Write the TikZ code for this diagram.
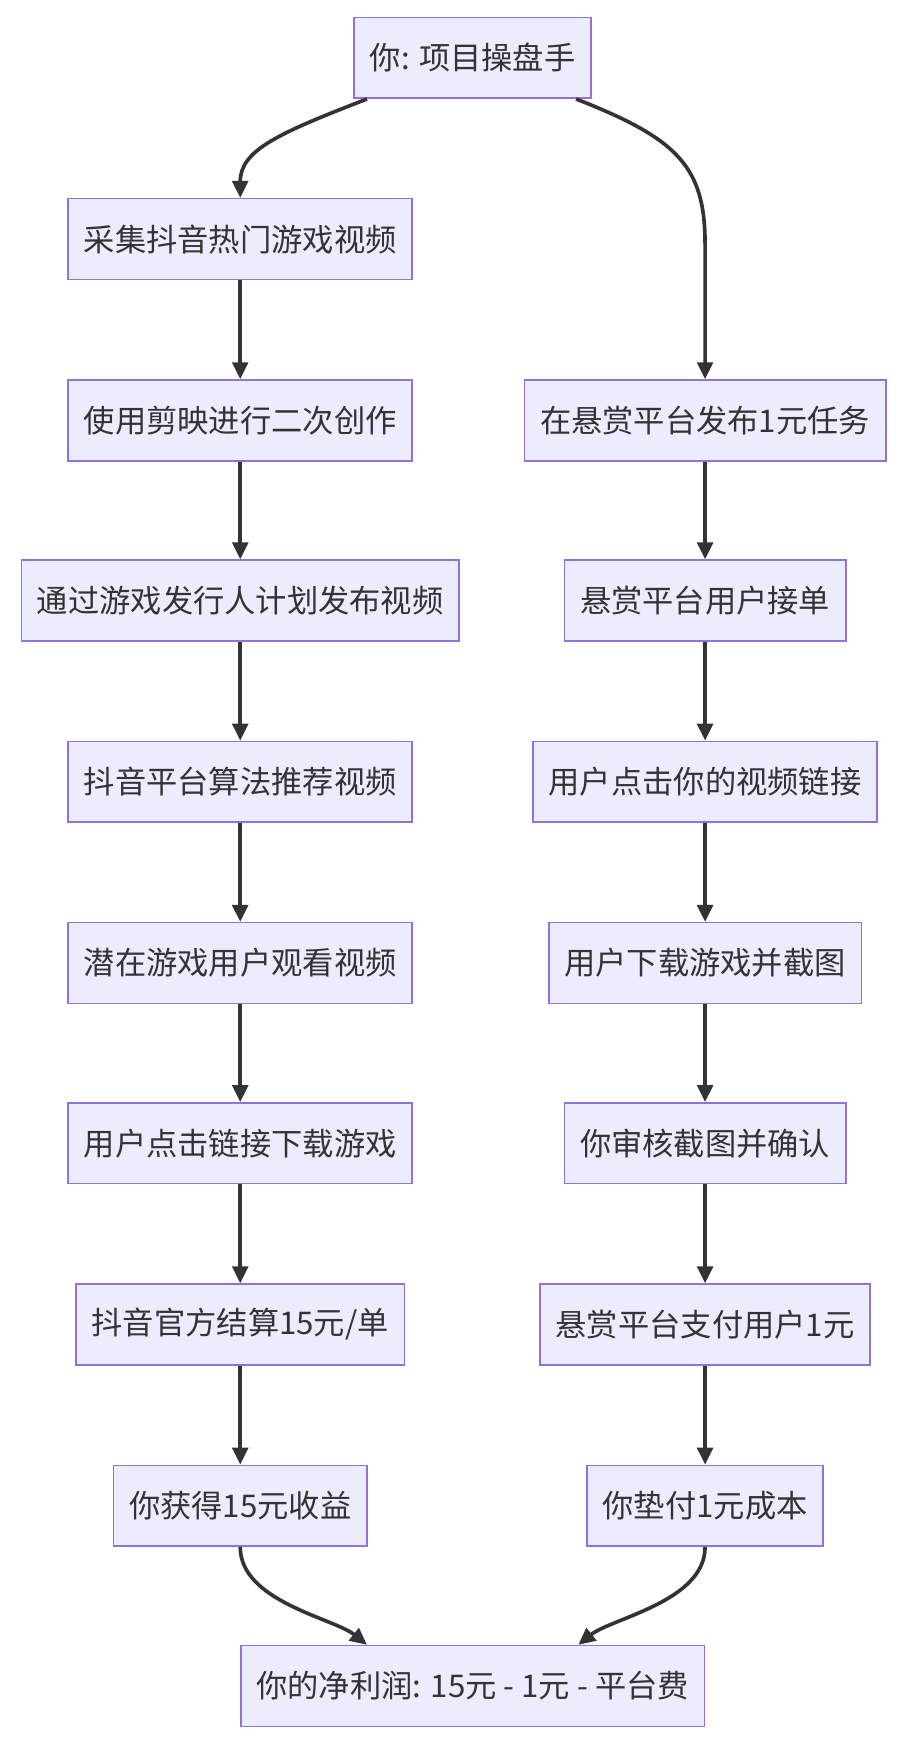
\documentclass[tikz,border=0pt]{standalone}
\usepackage{fontspec}
\setmainfont{Noto Sans CJK SC}
\usetikzlibrary{arrows.meta}
\definecolor{boxfill}{HTML}{ECECFF}
\definecolor{boxline}{HTML}{9370DB}
\definecolor{edge}{HTML}{333333}
\tikzset{>={Triangle[length=13pt,width=12pt]}}
\tikzset{stepbox/.style={draw=boxline,fill=boxfill,line width=1.2pt,minimum height=62pt,inner xsep=12pt,font=\fontsize{24pt}{28pt}\selectfont,text=edge}}
\tikzset{flow/.style={draw=edge,line width=2.8pt,->}}

\begin{document}
\begin{tikzpicture}[x=0.03cm,y=-0.03cm]
    \useasboundingbox (0,0) rectangle (817,1570);
    \node[stepbox] (top) at (425,52) {你: 项目操盘手};
    % left column
    \node[stepbox] (l1) at (216,215) {采集抖音热门游戏视频};
    \node[stepbox] (l2) at (216,378) {使用剪映进行二次创作};
    \node[stepbox] (l3) at (216,540) {通过游戏发行人计划发布视频};
    \node[stepbox] (l4) at (216,703) {抖音平台算法推荐视频};
    \node[stepbox] (l5) at (216,866) {潜在游戏用户观看视频};
    \node[stepbox] (l6) at (216,1028) {用户点击链接下载游戏};
    \node[stepbox] (l7) at (216,1191) {抖音官方结算15元/单};
    \node[stepbox] (l8) at (216,1354) {你获得15元收益};
    % right column
    \node[stepbox] (r1) at (634,378) {在悬赏平台发布1元任务};
    \node[stepbox] (r2) at (634,540) {悬赏平台用户接单};
    \node[stepbox] (r3) at (634,703) {用户点击你的视频链接};
    \node[stepbox] (r4) at (634,866) {用户下载游戏并截图};
    \node[stepbox] (r5) at (634,1028) {你审核截图并确认};
    \node[stepbox] (r6) at (634,1191) {悬赏平台支付用户1元};
    \node[stepbox] (r7) at (634,1354) {你垫付1元成本};
    \node[stepbox] (net) at (425,1516) {你的净利润: 15元 - 1元 - 平台费};

    \draw[flow] ([xshift=-2.85cm]top.south) .. controls (250,120) and (216,135) .. (l1.north);
    \draw[flow] ([xshift=2.79cm]top.south) .. controls (610,125) and (634,150) .. (634,220) -- (r1.north);
    \foreach \a/\b in {l1/l2,l2/l3,l3/l4,l4/l5,l5/l6,l6/l7,l7/l8,r1/r2,r2/r3,r3/r4,r4/r5,r5/r6,r6/r7}
      \draw[flow] (\a) -- (\b);
    \draw[flow] (l8.south) .. controls (216,1440) and (300,1455) .. ([xshift=-2.85cm]net.north);
    \draw[flow] (r7.south) .. controls (634,1440) and (550,1455) .. ([xshift=2.85cm]net.north);
\end{tikzpicture}
\end{document}
